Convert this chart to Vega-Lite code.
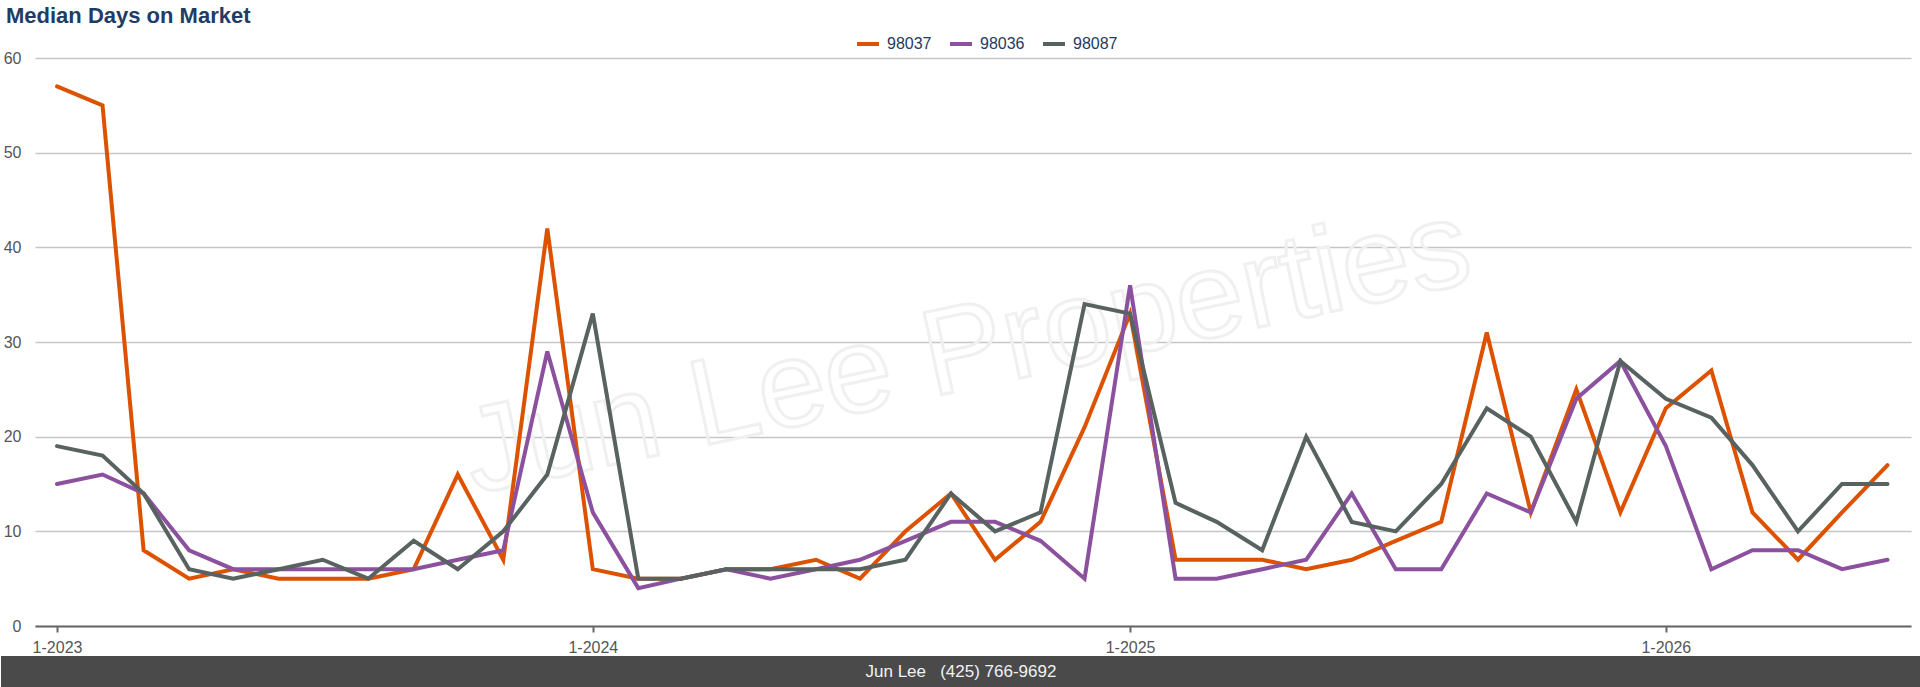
{
  "$schema": "https://vega.github.io/schema/vega-lite/v6.json",
  "padding": {"top": 5, "left": 0, "right": 0, "bottom": 0},
  "background": "white",
  "width": 1876,
  "height": 568,
  "config": {"font": "Liberation Sans", "view": {"stroke": null}},
  "title": {
    "text": "Median Days on Market",
    "anchor": "start",
    "fontSize": 22,
    "fontWeight": "bold",
    "color": "#1e3c64",
    "dx": 5,
    "offset": 3
  },
  "layer": [
    {
      "data": {"values": [{"label": "Jun Lee Properties"}]},
      "mark": {
        "type": "text",
        "fontSize": 122,
        "angle": -12,
        "fill": "transparent",
        "stroke": "#f0f0f0",
        "strokeWidth": 3,
        "align": "center",
        "baseline": "middle"
      },
      "encoding": {
        "x": {"datum": {"year": 2024, "month": 9, "date": 12, "utc": true}, "type": "temporal"},
        "y": {"datum": 29, "type": "quantitative"},
        "text": {"field": "label"}
      }
    },
    {
      "data": {"values": [{"label": "footer"}]},
      "mark": {"type": "rect", "color": "#4a4a4a"},
      "encoding": {
        "x": {"datum": {"year": 2022, "month": 11, "date": 23, "hours": 20, "utc": true}, "type": "temporal"},
        "x2": {"datum": {"year": 2026, "month": 6, "date": 23, "hours": 18, "utc": true}},
        "y": {"datum": -3.17, "type": "quantitative"},
        "y2": {"datum": -6.58}
      }
    },
    {
      "data": {"values": [{"label": "Jun Lee\u00a0\u00a0\u00a0(425) 766-9692"}]},
      "mark": {"type": "text", "fontSize": 17, "color": "#f2f2f2", "align": "center", "baseline": "middle"},
      "encoding": {
        "x": {"datum": {"year": 2024, "month": 9, "date": 7, "hours": 19, "utc": true}, "type": "temporal"},
        "y": {"datum": -4.85, "type": "quantitative"},
        "text": {"field": "label"}
      }
    },
    {
      "data": {
        "values": [
          {"month": "2023-01-01", "zip": "98037", "days": 57},
          {"month": "2023-02-01", "zip": "98037", "days": 55},
          {"month": "2023-03-01", "zip": "98037", "days": 8},
          {"month": "2023-04-01", "zip": "98037", "days": 5},
          {"month": "2023-05-01", "zip": "98037", "days": 6},
          {"month": "2023-06-01", "zip": "98037", "days": 5},
          {"month": "2023-07-01", "zip": "98037", "days": 5},
          {"month": "2023-08-01", "zip": "98037", "days": 5},
          {"month": "2023-09-01", "zip": "98037", "days": 6},
          {"month": "2023-10-01", "zip": "98037", "days": 16},
          {"month": "2023-11-01", "zip": "98037", "days": 7},
          {"month": "2023-12-01", "zip": "98037", "days": 42},
          {"month": "2024-01-01", "zip": "98037", "days": 6},
          {"month": "2024-02-01", "zip": "98037", "days": 5},
          {"month": "2024-03-01", "zip": "98037", "days": 5},
          {"month": "2024-04-01", "zip": "98037", "days": 6},
          {"month": "2024-05-01", "zip": "98037", "days": 6},
          {"month": "2024-06-01", "zip": "98037", "days": 7},
          {"month": "2024-07-01", "zip": "98037", "days": 5},
          {"month": "2024-08-01", "zip": "98037", "days": 10},
          {"month": "2024-09-01", "zip": "98037", "days": 14},
          {"month": "2024-10-01", "zip": "98037", "days": 7},
          {"month": "2024-11-01", "zip": "98037", "days": 11},
          {"month": "2024-12-01", "zip": "98037", "days": 21},
          {"month": "2025-01-01", "zip": "98037", "days": 33},
          {"month": "2025-02-01", "zip": "98037", "days": 7},
          {"month": "2025-03-01", "zip": "98037", "days": 7},
          {"month": "2025-04-01", "zip": "98037", "days": 7},
          {"month": "2025-05-01", "zip": "98037", "days": 6},
          {"month": "2025-06-01", "zip": "98037", "days": 7},
          {"month": "2025-07-01", "zip": "98037", "days": 9},
          {"month": "2025-08-01", "zip": "98037", "days": 11},
          {"month": "2025-09-01", "zip": "98037", "days": 31},
          {"month": "2025-10-01", "zip": "98037", "days": 12},
          {"month": "2025-11-01", "zip": "98037", "days": 25},
          {"month": "2025-12-01", "zip": "98037", "days": 12},
          {"month": "2026-01-01", "zip": "98037", "days": 23},
          {"month": "2026-02-01", "zip": "98037", "days": 27},
          {"month": "2026-03-01", "zip": "98037", "days": 12},
          {"month": "2026-04-01", "zip": "98037", "days": 7},
          {"month": "2026-05-01", "zip": "98037", "days": 12},
          {"month": "2026-06-01", "zip": "98037", "days": 17},
          {"month": "2023-01-01", "zip": "98036", "days": 15},
          {"month": "2023-02-01", "zip": "98036", "days": 16},
          {"month": "2023-03-01", "zip": "98036", "days": 14},
          {"month": "2023-04-01", "zip": "98036", "days": 8},
          {"month": "2023-05-01", "zip": "98036", "days": 6},
          {"month": "2023-06-01", "zip": "98036", "days": 6},
          {"month": "2023-07-01", "zip": "98036", "days": 6},
          {"month": "2023-08-01", "zip": "98036", "days": 6},
          {"month": "2023-09-01", "zip": "98036", "days": 6},
          {"month": "2023-10-01", "zip": "98036", "days": 7},
          {"month": "2023-11-01", "zip": "98036", "days": 8},
          {"month": "2023-12-01", "zip": "98036", "days": 29},
          {"month": "2024-01-01", "zip": "98036", "days": 12},
          {"month": "2024-02-01", "zip": "98036", "days": 4},
          {"month": "2024-03-01", "zip": "98036", "days": 5},
          {"month": "2024-04-01", "zip": "98036", "days": 6},
          {"month": "2024-05-01", "zip": "98036", "days": 5},
          {"month": "2024-06-01", "zip": "98036", "days": 6},
          {"month": "2024-07-01", "zip": "98036", "days": 7},
          {"month": "2024-08-01", "zip": "98036", "days": 9},
          {"month": "2024-09-01", "zip": "98036", "days": 11},
          {"month": "2024-10-01", "zip": "98036", "days": 11},
          {"month": "2024-11-01", "zip": "98036", "days": 9},
          {"month": "2024-12-01", "zip": "98036", "days": 5},
          {"month": "2025-01-01", "zip": "98036", "days": 36},
          {"month": "2025-02-01", "zip": "98036", "days": 5},
          {"month": "2025-03-01", "zip": "98036", "days": 5},
          {"month": "2025-04-01", "zip": "98036", "days": 6},
          {"month": "2025-05-01", "zip": "98036", "days": 7},
          {"month": "2025-06-01", "zip": "98036", "days": 14},
          {"month": "2025-07-01", "zip": "98036", "days": 6},
          {"month": "2025-08-01", "zip": "98036", "days": 6},
          {"month": "2025-09-01", "zip": "98036", "days": 14},
          {"month": "2025-10-01", "zip": "98036", "days": 12},
          {"month": "2025-11-01", "zip": "98036", "days": 24},
          {"month": "2025-12-01", "zip": "98036", "days": 28},
          {"month": "2026-01-01", "zip": "98036", "days": 19},
          {"month": "2026-02-01", "zip": "98036", "days": 6},
          {"month": "2026-03-01", "zip": "98036", "days": 8},
          {"month": "2026-04-01", "zip": "98036", "days": 8},
          {"month": "2026-05-01", "zip": "98036", "days": 6},
          {"month": "2026-06-01", "zip": "98036", "days": 7},
          {"month": "2023-01-01", "zip": "98087", "days": 19},
          {"month": "2023-02-01", "zip": "98087", "days": 18},
          {"month": "2023-03-01", "zip": "98087", "days": 14},
          {"month": "2023-04-01", "zip": "98087", "days": 6},
          {"month": "2023-05-01", "zip": "98087", "days": 5},
          {"month": "2023-06-01", "zip": "98087", "days": 6},
          {"month": "2023-07-01", "zip": "98087", "days": 7},
          {"month": "2023-08-01", "zip": "98087", "days": 5},
          {"month": "2023-09-01", "zip": "98087", "days": 9},
          {"month": "2023-10-01", "zip": "98087", "days": 6},
          {"month": "2023-11-01", "zip": "98087", "days": 10},
          {"month": "2023-12-01", "zip": "98087", "days": 16},
          {"month": "2024-01-01", "zip": "98087", "days": 33},
          {"month": "2024-02-01", "zip": "98087", "days": 5},
          {"month": "2024-03-01", "zip": "98087", "days": 5},
          {"month": "2024-04-01", "zip": "98087", "days": 6},
          {"month": "2024-05-01", "zip": "98087", "days": 6},
          {"month": "2024-06-01", "zip": "98087", "days": 6},
          {"month": "2024-07-01", "zip": "98087", "days": 6},
          {"month": "2024-08-01", "zip": "98087", "days": 7},
          {"month": "2024-09-01", "zip": "98087", "days": 14},
          {"month": "2024-10-01", "zip": "98087", "days": 10},
          {"month": "2024-11-01", "zip": "98087", "days": 12},
          {"month": "2024-12-01", "zip": "98087", "days": 34},
          {"month": "2025-01-01", "zip": "98087", "days": 33},
          {"month": "2025-02-01", "zip": "98087", "days": 13},
          {"month": "2025-03-01", "zip": "98087", "days": 11},
          {"month": "2025-04-01", "zip": "98087", "days": 8},
          {"month": "2025-05-01", "zip": "98087", "days": 20},
          {"month": "2025-06-01", "zip": "98087", "days": 11},
          {"month": "2025-07-01", "zip": "98087", "days": 10},
          {"month": "2025-08-01", "zip": "98087", "days": 15},
          {"month": "2025-09-01", "zip": "98087", "days": 23},
          {"month": "2025-10-01", "zip": "98087", "days": 20},
          {"month": "2025-11-01", "zip": "98087", "days": 11},
          {"month": "2025-12-01", "zip": "98087", "days": 28},
          {"month": "2026-01-01", "zip": "98087", "days": 24},
          {"month": "2026-02-01", "zip": "98087", "days": 22},
          {"month": "2026-03-01", "zip": "98087", "days": 17},
          {"month": "2026-04-01", "zip": "98087", "days": 10},
          {"month": "2026-05-01", "zip": "98087", "days": 15},
          {"month": "2026-06-01", "zip": "98087", "days": 15}
        ]
      },
      "mark": {"type": "line", "strokeWidth": 4, "strokeCap": "round"},
      "encoding": {
        "x": {
          "field": "month",
          "type": "temporal",
          "scale": {
            "type": "utc",
            "domain": [
              {"year": 2022, "month": 12, "date": 17, "utc": true},
              {"year": 2026, "month": 6, "date": 17, "utc": true}
            ]
          },
          "axis": {
            "title": null,
            "values": [
              {"year": 2023, "month": 1, "date": 1, "utc": true},
              {"year": 2024, "month": 1, "date": 1, "utc": true},
              {"year": 2025, "month": 1, "date": 1, "utc": true},
              {"year": 2026, "month": 1, "date": 1, "utc": true}
            ],
            "format": "%-m-%Y",
            "grid": false,
            "domainColor": "#666666",
            "domainWidth": 2,
            "tickColor": "#666666",
            "tickWidth": 2,
            "tickSize": 6,
            "labelFontSize": 16,
            "labelColor": "#555555",
            "labelPadding": 7,
            "labelFlush": false,
            "labelOverlap": false,
            "zindex": 1
          }
        },
        "y": {
          "field": "days",
          "type": "quantitative",
          "scale": {"domain": [0, 60], "nice": false},
          "axis": {
            "title": null,
            "values": [0, 10, 20, 30, 40, 50, 60],
            "domain": false,
            "ticks": false,
            "grid": true,
            "gridColor": "#c6c6c6",
            "gridWidth": 1.5,
            "labelFontSize": 16,
            "labelColor": "#555555",
            "labelPadding": 14,
            "labelFlush": false,
            "labelOverlap": false
          }
        },
        "color": {
          "field": "zip",
          "type": "nominal",
          "scale": {
            "domain": ["98037", "98036", "98087"],
            "range": ["#dd5200", "#8c519e", "#586260"]
          },
          "legend": {
            "title": null,
            "orient": "none",
            "legendX": 820,
            "legendY": -27,
            "direction": "horizontal",
            "padding": 0,
            "symbolType": "stroke",
            "symbolStrokeWidth": 4,
            "symbolSize": 484,
            "labelFontSize": 16,
            "labelColor": "#1e3c64",
            "labelOffset": 6,
            "columnPadding": 10
          }
        }
      }
    }
  ]
}
